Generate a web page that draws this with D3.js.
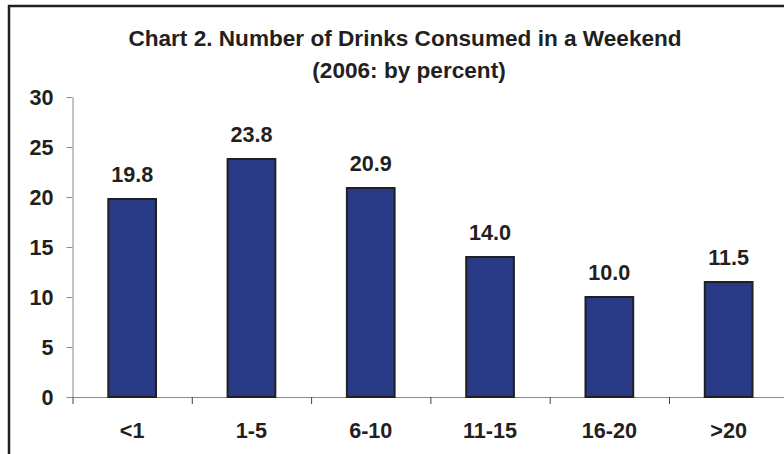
<!DOCTYPE html>
<html>
<head>
<meta charset="utf-8">
<script src="https://cdn.jsdelivr.net/npm/d3@7"></script>
<style>
  html, body { margin: 0; padding: 0; background: #fff; }
  svg { display: block; }
  text { font-family: "Liberation Sans", Arial, sans-serif; font-weight: bold; fill: #231f20; }
</style>
</head>
<body>
<svg id="chart" width="784" height="454"></svg>
<script>
// Weekend drinking, 2006 (percent of respondents)
const categories = ["<1", "1-5", "6-10", "11-15", "16-20", ">20"];
const percents = [19.8, 23.8, 20.9, 14.0, 10.0, 11.5];
const yTicks = [0, 5, 10, 15, 20, 25, 30];
const titleLines = ["Chart 2. Number of Drinks Consumed in a Weekend", "(2006: by percent)"];

(function draw() {
  const svg = d3.select("#chart");
  const ink = "#231f20";
  const axisGrey = "#8a8a8a";

  const plotLeft = 72.5, plotRight = 788.3, plotTop = 97, plotBottom = 397;

  // outer frame (top and left edges)
  svg.append("path")
    .attr("d", "M9,454 L9,6 L784,6")
    .attr("fill", "none")
    .attr("stroke", ink)
    .attr("stroke-width", 2.5);

  // title
  svg.append("text").attr("x", 405).attr("y", 46)
    .attr("text-anchor", "middle").style("font-size", "22.6px").text(titleLines[0]);
  svg.append("text").attr("x", 409).attr("y", 78)
    .attr("text-anchor", "middle").style("font-size", "22.6px").text(titleLines[1]);

  const x = d3.scaleBand().domain(categories).range([plotLeft, plotRight])
    .paddingInner(0.6).paddingOuter(0.3);
  const y = d3.scaleLinear().domain([0, 30]).range([plotBottom, plotTop]);
  const xEdges = d3.scaleLinear().domain([0, categories.length]).range([plotLeft, plotRight]);

  // y axis
  const yAxis = svg.append("g").attr("transform", `translate(${plotLeft},0)`)
    .call(d3.axisLeft(y).tickValues(yTicks).tickSize(6).tickSizeOuter(0).tickPadding(13));
  yAxis.attr("font-family", null).attr("font-size", null);
  yAxis.select(".domain").attr("stroke", axisGrey);
  yAxis.selectAll(".tick line").attr("stroke", axisGrey);
  yAxis.selectAll(".tick text").style("font-size", "21.6px").attr("fill", ink).attr("dy", "0.36em");

  // x axis line with ticks between categories
  const xAxis = svg.append("g").attr("transform", `translate(0,${plotBottom})`)
    .call(d3.axisBottom(xEdges).tickValues(d3.range(categories.length + 1))
      .tickSize(7).tickSizeOuter(0).tickFormat(""));
  xAxis.select(".domain").attr("stroke", axisGrey);
  xAxis.selectAll(".tick line").attr("stroke", "#444");

  // category labels
  svg.append("g").selectAll("text").data(categories).join("text")
    .attr("x", d => x(d) + x.bandwidth() / 2)
    .attr("y", 438)
    .attr("text-anchor", "middle")
    .style("font-size", "21.6px")
    .text(d => d);

  // bars
  svg.append("g").selectAll("rect").data(percents).join("rect")
    .attr("x", (d, i) => x(categories[i]))
    .attr("y", d => y(d))
    .attr("width", x.bandwidth())
    .attr("height", d => y(0) - y(d))
    .attr("fill", "#283a86")
    .attr("stroke", ink)
    .attr("stroke-width", 2);

  // value labels
  svg.append("g").selectAll("text").data(percents).join("text")
    .attr("x", (d, i) => x(categories[i]) + x.bandwidth() / 2)
    .attr("y", d => y(d) - 17)
    .attr("text-anchor", "middle")
    .style("font-size", "21.6px")
    .text(d => d.toFixed(1));
})();
</script>
</body>
</html>
